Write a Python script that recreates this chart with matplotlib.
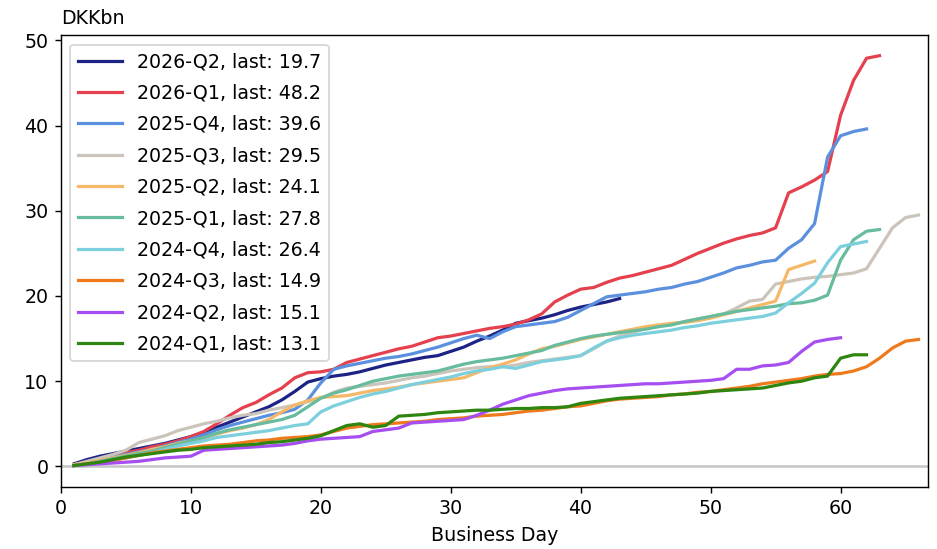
import numpy as np
import matplotlib.pyplot as plt

plt.rcParams["font.size"] = 10.7

# cumulative issuance per quarter, DKK bn, by business day of the quarter
q2026_2 = [0.3, 0.8, 1.2, 1.5, 1.8, 2.1, 2.4, 2.7, 3.1, 3.5, 4.0, 4.6, 5.2, 5.8, 6.4, 7.0, 7.8, 8.8, 9.9, 10.3,
           10.6, 10.8, 11.1, 11.5, 11.9, 12.2, 12.5, 12.8, 13.0, 13.5, 14.0, 14.7, 15.3, 16.0, 16.8, 17.1, 17.4, 17.8, 18.3, 18.7,
           19.0, 19.3, 19.7]
q2026_1 = [0.2, 0.5, 0.9, 1.3, 1.6, 1.9, 2.3, 2.6, 3.0, 3.5, 4.1, 5.0, 6.0, 6.9, 7.5, 8.4, 9.2, 10.4, 11.0, 11.1,
           11.4, 12.2, 12.6, 13.0, 13.4, 13.8, 14.1, 14.6, 15.1, 15.3, 15.6, 15.9, 16.2, 16.4, 16.7, 17.2, 17.9, 19.3, 20.1, 20.8,
           21.0, 21.6, 22.1, 22.4, 22.8, 23.2, 23.6, 24.3, 25.0, 25.6, 26.2, 26.7, 27.1, 27.4, 28.0, 32.1, 32.8, 33.6, 34.6, 41.2,
           45.3, 47.9, 48.2]
q2025_4 = [0.2, 0.5, 0.8, 1.1, 1.4, 1.7, 2.0, 2.4, 2.8, 3.2, 3.7, 4.3, 4.8, 5.2, 5.6, 6.0, 6.3, 6.7, 7.8, 9.8,
           11.4, 11.8, 12.1, 12.4, 12.7, 12.9, 13.2, 13.6, 14.0, 14.5, 15.0, 15.4, 15.0, 15.8, 16.4, 16.6, 16.8, 17.0, 17.5, 18.3,
           19.1, 19.9, 20.1, 20.3, 20.5, 20.8, 21.0, 21.4, 21.7, 22.2, 22.7, 23.3, 23.6, 24.0, 24.2, 25.6, 26.6, 28.5, 36.3, 38.8,
           39.3, 39.6]
q2025_3 = [0.2, 0.6, 1.0, 1.4, 1.9, 2.8, 3.2, 3.6, 4.2, 4.6, 5.0, 5.3, 5.7, 6.0, 6.2, 6.6, 6.9, 7.2, 7.6, 8.0,
           8.7, 9.2, 9.4, 9.6, 9.8, 10.1, 10.4, 10.6, 10.9, 11.2, 11.4, 11.6, 11.7, 11.7, 11.9, 12.2, 12.4, 12.6, 12.8, 13.0,
           13.8, 14.7, 15.3, 15.7, 16.2, 16.5, 16.7, 17.0, 17.3, 17.6, 17.9, 18.6, 19.4, 19.6, 21.4, 21.7, 22.0, 22.2, 22.3, 22.5,
           22.7, 23.2, 25.6, 28.0, 29.2, 29.5]
q2025_2 = [0.2, 0.4, 0.7, 1.0, 1.3, 1.6, 2.0, 2.3, 2.7, 3.0, 3.3, 3.8, 4.2, 4.5, 4.9, 5.5, 6.4, 7.2, 7.7, 8.1,
           8.2, 8.3, 8.6, 8.9, 9.1, 9.3, 9.6, 9.8, 10.0, 10.2, 10.4, 11.0, 11.6, 12.0, 12.5, 13.2, 13.8, 14.1, 14.5, 14.9,
           15.2, 15.5, 15.8, 16.1, 16.4, 16.6, 16.8, 16.9, 17.1, 17.4, 17.8, 18.2, 18.6, 19.0, 19.4, 23.1, 23.6, 24.1]
q2025_1 = [0.1, 0.3, 0.6, 0.9, 1.2, 1.5, 1.8, 2.2, 2.6, 3.0, 3.4, 3.9, 4.3, 4.6, 4.9, 5.2, 5.5, 6.0, 7.0, 8.0,
           8.6, 9.0, 9.5, 10.0, 10.3, 10.6, 10.8, 11.0, 11.2, 11.6, 12.0, 12.3, 12.5, 12.7, 13.0, 13.3, 13.6, 14.2, 14.6, 15.0,
           15.3, 15.5, 15.7, 15.9, 16.1, 16.4, 16.6, 17.0, 17.3, 17.6, 17.9, 18.2, 18.4, 18.6, 18.8, 19.1, 19.2, 19.5, 20.1, 24.2,
           26.6, 27.6, 27.8]
q2024_4 = [0.1, 0.3, 0.5, 0.8, 1.0, 1.3, 1.6, 2.0, 2.4, 2.7, 3.0, 3.4, 3.6, 3.8, 4.0, 4.2, 4.5, 4.8, 5.0, 6.4,
           7.1, 7.6, 8.1, 8.5, 8.8, 9.2, 9.6, 9.9, 10.2, 10.5, 10.9, 11.2, 11.4, 11.7, 11.5, 11.9, 12.3, 12.5, 12.7, 13.0,
           13.9, 14.7, 15.1, 15.4, 15.6, 15.8, 16.0, 16.3, 16.5, 16.8, 17.0, 17.2, 17.4, 17.6, 18.0, 19.2, 20.3, 21.5, 23.9, 25.8,
           26.1, 26.4]
q2024_3 = [0.1, 0.3, 0.5, 0.7, 1.0, 1.3, 1.6, 1.8, 2.0, 2.2, 2.4, 2.5, 2.6, 2.8, 3.0, 3.1, 3.3, 3.4, 3.5, 3.7,
           4.1, 4.5, 4.7, 4.9, 5.0, 5.1, 5.2, 5.3, 5.5, 5.6, 5.7, 5.9, 6.0, 6.1, 6.3, 6.5, 6.6, 6.8, 7.0, 7.1,
           7.4, 7.7, 7.9, 8.0, 8.1, 8.2, 8.4, 8.5, 8.7, 8.8, 9.0, 9.2, 9.4, 9.7, 9.9, 10.1, 10.3, 10.6, 10.8, 10.9,
           11.2, 11.7, 12.7, 13.9, 14.7, 14.9]
q2024_2 = [0.1, 0.2, 0.3, 0.4, 0.5, 0.6, 0.8, 1.0, 1.1, 1.2, 1.9, 2.0, 2.1, 2.2, 2.3, 2.4, 2.5, 2.7, 3.0, 3.2,
           3.3, 3.4, 3.5, 4.1, 4.3, 4.5, 5.1, 5.2, 5.3, 5.4, 5.5, 6.0, 6.6, 7.3, 7.8, 8.3, 8.6, 8.9, 9.1, 9.2,
           9.3, 9.4, 9.5, 9.6, 9.7, 9.7, 9.8, 9.9, 10.0, 10.1, 10.3, 11.4, 11.4, 11.8, 11.9, 12.2, 13.5, 14.6, 14.9, 15.1]
q2024_1 = [0.1, 0.3, 0.5, 0.8, 1.1, 1.3, 1.5, 1.7, 1.9, 2.0, 2.2, 2.3, 2.4, 2.5, 2.6, 2.8, 2.9, 3.1, 3.3, 3.6,
           4.2, 4.8, 5.0, 4.6, 4.8, 5.9, 6.0, 6.1, 6.3, 6.4, 6.5, 6.6, 6.6, 6.7, 6.8, 6.8, 6.9, 6.9, 7.0, 7.4,
           7.6, 7.8, 8.0, 8.1, 8.2, 8.3, 8.4, 8.5, 8.6, 8.8, 8.9, 9.0, 9.1, 9.2, 9.5, 9.8, 10.0, 10.4, 10.6, 12.7,
           13.1, 13.1]

names = ["2026-Q2", "2026-Q1", "2025-Q4", "2025-Q3", "2025-Q2",
         "2025-Q1", "2024-Q4", "2024-Q3", "2024-Q2", "2024-Q1"]
series = [q2026_2, q2026_1, q2025_4, q2025_3, q2025_2,
          q2025_1, q2024_4, q2024_3, q2024_2, q2024_1]
colors = ["#1c2385", "#e5404e", "#5b90de", "#cbc4ba", "#f5b867",
          "#66bc9c", "#7ccfdc", "#ef7a1c", "#a64ef0", "#2e8610"]

fig, ax = plt.subplots(figsize=(937 / 128, 549 / 128), dpi=128)
fig.subplots_adjust(left=0.065, right=0.990, top=0.936, bottom=0.113)

ax.axhline(0, color="#c8c8c8", linewidth=1.5, zorder=0)

for name, vals, c in zip(names, series, colors):
    days = np.arange(1, len(vals) + 1)
    ax.plot(days, vals, color=c, linewidth=1.8, label=f"{name}, last: {vals[-1]:.1f}")

ax.set_xlim(0, 66.7)
ax.set_title("DKKbn", loc="left", fontsize=10.7)
ax.set_xlabel("Business Day")
ax.legend(loc="upper left", handlelength=2.3, labelspacing=0.65)

plt.savefig("out.png", dpi=128)
